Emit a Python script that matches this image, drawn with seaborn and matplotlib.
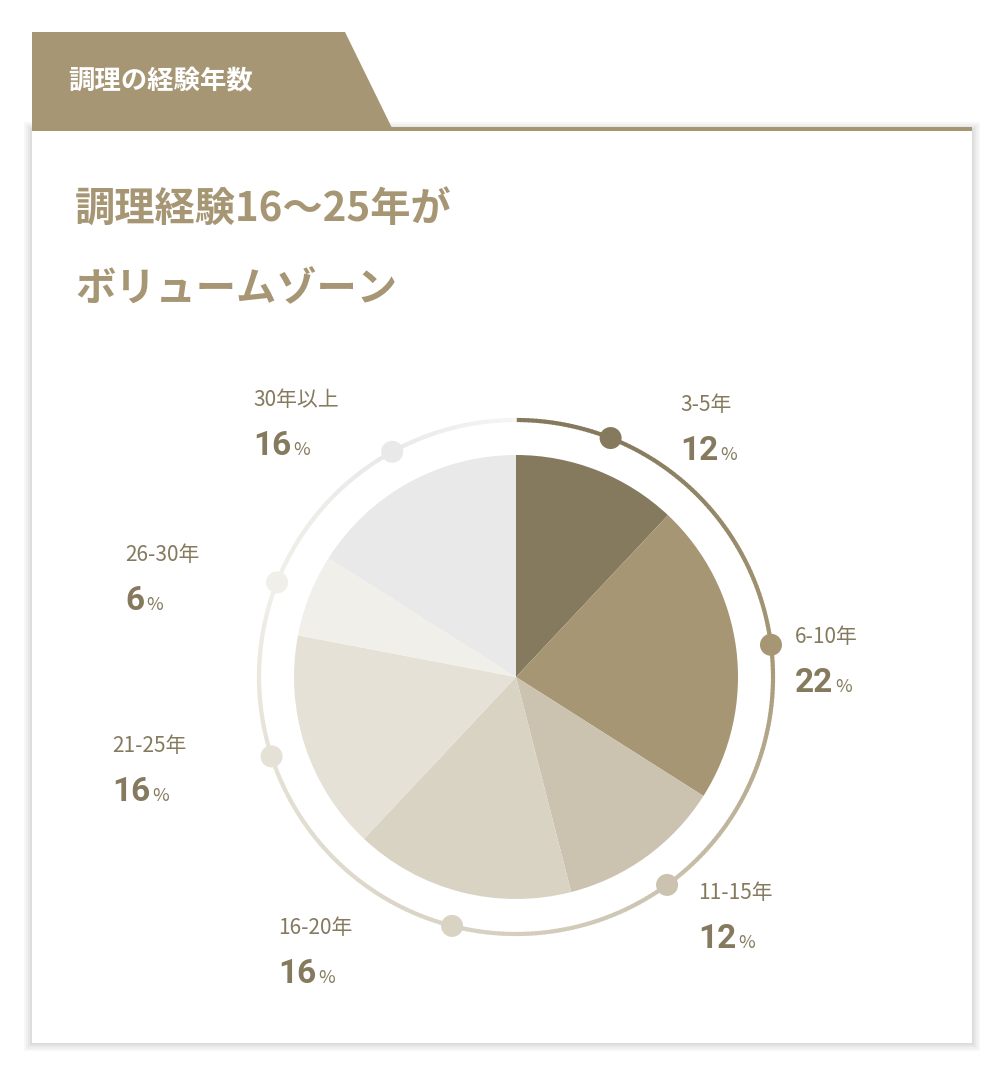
import matplotlib
matplotlib.use("Agg")
import matplotlib.pyplot as plt
import seaborn as sns
import numpy as np
from matplotlib.patches import Rectangle, Polygon, Circle
from matplotlib.colors import to_rgb

sns.set_theme(style="white")
plt.rcParams['font.family'] = ['Noto Sans CJK JP', 'DejaVu Sans']

categories = ["3-5年", "6-10年", "11-15年", "16-20年", "21-25年", "26-30年", "30年以上"]
values = [12, 22, 12, 16, 16, 6, 16]
colors = ["#857a5e", "#a69674", "#cbc3b0", "#d9d3c4", "#e5e1d6", "#f0efe9", "#e9e9e9"]
label_pos = [(680, 405), (795, 637), (698, 893), (278, 928), (112, 746), (125, 555), (253, 400)]

W, H = 1004, 1076
fig = plt.figure(figsize=(W/100, H/100), dpi=100)
fig.patch.set_facecolor("white")
ax = fig.add_axes([0, 0, 1, 1])
ax.set_xlim(0, W); ax.set_ylim(0, H); ax.axis("off")
Y = lambda y: H - y

# card shadow + card
for i, a in enumerate([0.03, 0.03, 0.03, 0.04]):
    d = 8 - 2*i
    ax.add_patch(Rectangle((32-d, Y(1043)-d), 940+2*d, 913+2*d, color="black", alpha=a, lw=0, zorder=0))
ax.add_patch(Rectangle((32, Y(1043)), 940, 913, color="white", lw=0, zorder=1))
ax.add_patch(Polygon([(32, Y(32)), (345, Y(32)), (392, Y(128)), (32, Y(128))], color="#a69674", lw=0, zorder=2))
ax.add_patch(Rectangle((32, Y(131)), 940, 4, color="#a69674", lw=0, zorder=2))
ax.text(68, Y(82), "調理の経験年数", color="white", fontsize=19, fontweight="bold", va="center", zorder=3)
ax.text(75, Y(210), "調理経験16〜25年が", color="#a69674", fontsize=29, fontweight="bold", va="center", zorder=3)
ax.text(75, Y(290), "ボリュームゾーン", color="#a69674", fontsize=29, fontweight="bold", va="center", zorder=3)

cx, cy, r = 516, Y(677), 222
ax.pie(values, colors=colors, startangle=90, counterclock=False, center=(cx, cy),
       radius=r, frame=True, wedgeprops=dict(lw=0, zorder=4))
ax.set_xlim(0, W); ax.set_ylim(0, H); ax.axis("off")

# ring with gradient
R = 257
cum = np.cumsum([0] + values)
mids = [(cum[i] + cum[i+1]) / 2 for i in range(len(values))]
stops = [0] + mids + [100]
scol = [to_rgb(colors[0])] + [to_rgb(c) for c in colors[:-1]] + [to_rgb("#ececec")] + [to_rgb("#ffffff")]
scol = [to_rgb(colors[0])] + [to_rgb(c) for c in colors] + [to_rgb("#f5f5f5")]
n = 400
for k in range(n):
    p0, p1 = 100*k/n, 100*(k+1)/n
    pm = (p0+p1)/2
    c = [np.interp(pm, stops, [s[j] for s in scol]) for j in range(3)]
    th = np.radians(90 - 3.6*np.linspace(p0, p1+0.05, 5))
    ax.plot(cx + R*np.cos(th), cy + R*np.sin(th), color=c, lw=3, solid_capstyle="butt", zorder=3)
for m, c in zip(mids, colors):
    th = np.radians(90 - 3.6*m)
    ax.add_patch(Circle((cx + R*np.cos(th), cy + R*np.sin(th)), 11, color=c, lw=0, zorder=5))

fig.canvas.draw()
rend = fig.canvas.get_renderer()
for cat, v, (lx, ly) in zip(categories, values, label_pos):
    ax.text(lx, Y(ly), cat, color="#857a5e", fontsize=15, va="center", zorder=6)
    t = ax.text(lx, Y(ly+46), str(v), color="#857a5e", fontsize=24, fontweight="bold",
                va="center", zorder=6, family=["Roboto", "DejaVu Sans"])
    bb = t.get_window_extent(rend)
    ax.text(bb.x1 + 2, Y(ly+50), "%", color="#857a5e", fontsize=13, va="center", zorder=6)

fig.savefig("out.png", dpi=100, facecolor="white")
